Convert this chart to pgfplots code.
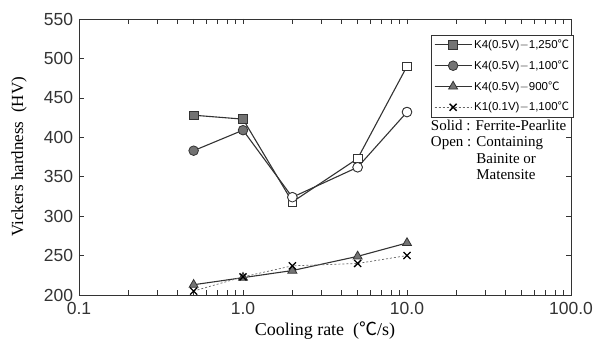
\documentclass[border=0pt]{standalone}
\usepackage{pgfplots}
\pgfplotsset{compat=1.18}
\usepackage{fontspec}
\setmainfont{Liberation Serif}
\newfontfamily\tickfont{Liberation Sans}
\newfontfamily\cjk{Noto Sans CJK JP}
\newcommand{\degc}{{\cjk ℃}}
\definecolor{ln}{HTML}{333333}
\definecolor{fillg}{HTML}{737373}
\begin{document}
\begin{tikzpicture}
\path[use as bounding box] (-79pt,-52pt) rectangle (518pt,295pt);
\begin{axis}[
  at={(0,0)}, anchor=south west,
  scale only axis, width=492pt, height=276pt,
  xmode=log, xmin=0.1, xmax=100, ymin=200, ymax=550,
  xtick={0.1,1,10,100}, xticklabels={0.1,1.0,10.0,100.0},
  ytick={200,250,...,550},
  /pgf/number format/assume math mode=true,
  tick align=inside, major tick length=5pt, minor tick length=5pt,
  axis line style={ln, line width=0.8pt},
  every tick/.style={ln, line width=0.7pt},
  ticklabel style={font=\tickfont\fontsize{17.5}{17.5}\selectfont, text=ln, inner sep=0.5pt},
  xticklabel style={yshift=-6.5pt},
  yticklabel style={xshift=-5.3pt},
  xlabel={Cooling rate \ (\degc/s)},
  ylabel={Vickers hardness \ (HV)},
  xlabel style={font=\fontsize{18}{18}\selectfont, at={(axis description cs:0.5,-0.13)}, anchor=center},
  ylabel style={font=\fontsize{17}{17}\selectfont, at={(axis description cs:-0.122,0.5)}, anchor=center},
  legend style={at={(rel axis cs:1.006,0.942)}, anchor=north east, draw=ln, line width=0.6pt,
    font=\tickfont\fontsize{11.5}{11.5}\selectfont, row sep=6.5pt, inner sep=2.5pt,
    cells={anchor=west}},
  legend image code/.code={\draw[#1] (0cm,0cm) -- (1.3cm,0cm); \draw[#1, mark repeat=2, mark phase=2] plot coordinates {(0cm,0cm) (0.65cm,0cm) (1.3cm,0cm)};},
]
\addplot[ln, line width=1.1pt, mark=square*, mark size=4.3pt, mark options={fill=fillg, draw=ln, line width=0.8pt, solid}]
  coordinates {(0.5,428) (1,423) (2,318) (5,373) (10,490)};
\addlegendentry{K4(0.5V)$-$1,250\degc}
\addplot[ln, line width=1.1pt, mark=*, mark size=4.8pt, mark options={fill=fillg, draw=ln, line width=0.8pt, solid}]
  coordinates {(0.5,383) (1,409) (2,324) (5,362) (10,432)};
\addlegendentry{K4(0.5V)$-$1,100\degc}
\addplot[ln, line width=1.1pt, mark=triangle*, mark size=5.2pt, mark options={fill=fillg, draw=ln, line width=0.8pt, solid}]
  coordinates {(0.5,213) (1,222) (2,231) (5,249) (10,266)};
\addlegendentry{K4(0.5V)$-$900\degc}
\addplot[ln!75, line width=0.7pt, dash pattern=on 2pt off 2pt, mark=x, mark size=5pt, mark options={draw=black, line width=1.3pt, solid}]
  coordinates {(0.5,205) (1,223) (2,237) (5,240) (10,250)};
\addlegendentry{K1(0.1V)$-$1,100\degc}
\addplot[only marks, forget plot, mark=square*, mark size=4.3pt, mark options={fill=white, draw=ln, line width=0.8pt}]
  coordinates {(2,318) (5,373) (10,490)};
\addplot[only marks, forget plot, mark=*, mark size=4.8pt, mark options={fill=white, draw=ln, line width=0.8pt}]
  coordinates {(2,324) (5,362) (10,432)};
\node[anchor=north west, align=left, font=\fontsize{15}{16.5}\selectfont, inner sep=0pt]
  at (rel axis cs:0.715,0.635) {Solid : Ferrite-Pearlite\\Open : Containing\\\hphantom{Open : }Bainite or\\\hphantom{Open : }Matensite};
\end{axis}
\end{tikzpicture}
\end{document}
